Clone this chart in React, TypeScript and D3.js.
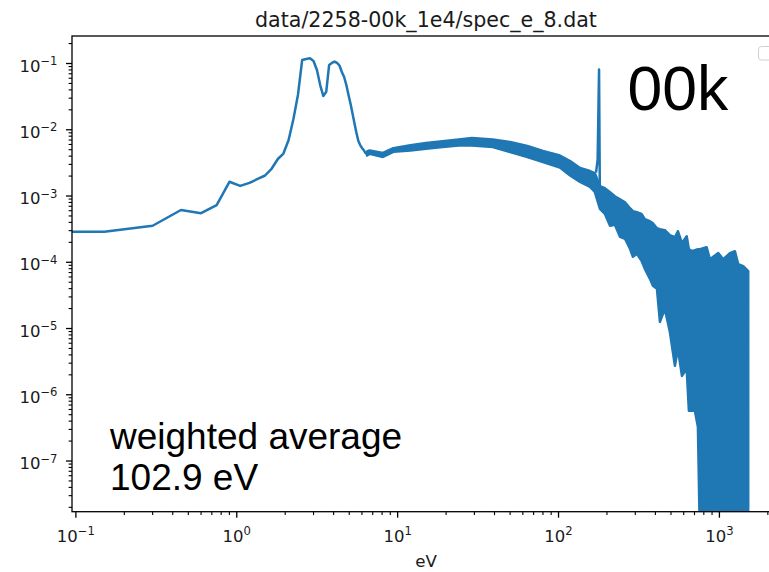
import React from 'react';
import * as d3 from 'd3';

// ---- data (energy in eV, spectral value) ----
// sparse low-energy part (0.15 eV bins; first bin at the left edge)
const lowE = [0.05, 0.15, 0.30, 0.45, 0.60, 0.75, 0.90, 1.05, 1.20, 1.35, 1.50, 1.65, 1.80, 1.95, 2.10, 2.25, 2.40, 2.55, 2.70, 2.85, 3.00, 3.15, 3.30, 3.45, 3.60, 3.75, 3.90, 4.05, 4.20, 4.35, 4.50, 4.65, 4.80, 4.95, 5.10, 5.25, 5.40, 5.55, 5.70, 5.85, 6.00, 6.15, 6.30, 6.45];
const lowF = [2.88e-4, 2.89e-4, 3.56e-4, 6.15e-4, 5.5e-4, 7.31e-4, 1.64e-3, 1.42e-3, 1.58e-3, 1.81e-3, 2.04e-3, 2.6e-3, 3.62e-3, 4.38e-3, 7.0e-3, 1.45e-2, 3.35e-2, 0.113, 0.117, 0.120, 0.109, 0.0798, 0.0473, 0.0323, 0.0375, 0.0949, 0.102, 0.107, 0.102, 0.0933, 0.0744, 0.0626, 0.0473, 0.0335, 0.0245, 0.0173, 0.0122, 0.0089, 0.00676, 0.00588, 0.00531, 0.00495, 0.00446, 0.0043];

// dense noisy part: upper and lower envelope of the fluctuating curve (0 = empty bins)
const bandE = [6.45, 6.7, 8.1, 9.4, 12, 15, 19, 24, 29, 39, 50, 64, 80, 102, 118, 136, 157, 168, 181, 194, 209, 224, 241, 259, 278, 290, 307, 328, 344, 370, 386, 409, 427, 458, 492, 529, 552, 585, 626, 646, 675, 704, 735, 757, 832, 873, 983, 1056, 1162, 1248, 1309, 1406, 1510];
const bandHi = [4.70e-3, 4.86e-3, 4.46e-3, 5.27e-3, 5.85e-3, 6.31e-3, 6.71e-3, 7.13e-3, 7.50e-3, 7.13e-3, 6.53e-3, 5.69e-3, 4.78e-3, 4.08e-3, 3.37e-3, 2.65e-3, 2.38e-3, 2.22e-3, 1.41e-3, 1.31e-3, 1.14e-3, 9.93e-4, 8.95e-4, 8.06e-4, 6.55e-4, 5.90e-4, 5.69e-4, 5.37e-4, 4.47e-4, 4.17e-4, 3.88e-4, 3.26e-4, 3.15e-4, 3.05e-4, 2.56e-4, 2.39e-4, 2.94e-4, 1.94e-4, 2.47e-4, 1.57e-4, 1.47e-4, 1.52e-4, 1.57e-4, 1.57e-4, 1.69e-4, 1.11e-4, 1.38e-4, 1.11e-4, 1.37e-4, 1.47e-4, 9.35e-5, 8.72e-5, 7.33e-5];
const bandLo = [4.08e-3, 4.33e-3, 3.88e-3, 4.65e-3, 4.86e-3, 5.16e-3, 5.50e-3, 5.78e-3, 5.78e-3, 5.50e-3, 4.61e-3, 3.88e-3, 3.26e-3, 2.69e-3, 2.04e-3, 1.63e-3, 1.37e-3, 1.15e-3, 6.41e-4, 5.38e-4, 3.55e-4, 3.67e-4, 2.42e-4, 2.26e-4, 1.60e-4, 1.21e-4, 1.34e-4, 1.05e-4, 7.96e-5, 5.62e-5, 4.41e-5, 3.97e-5, 1.26e-5, 1.98e-5, 8.91e-6, 2.73e-6, 4.94e-6, 1.93e-6, 2.47e-6, 5.73e-7, 5.73e-7, 5.73e-7, 3.28e-7, 0, 0, 0, 0, 0, 0, 0, 0, 0, 0];

// narrow line near 179 eV
const spikeE = [171, 175, 178.6, 180.5];
const spikeF = [2.25e-3, 3.5e-3, 0.0812, 1.42e-3];

// axis ticks
const xTickExp = [-1, 0, 1, 2, 3];
const yTickExp = [-1, -2, -3, -4, -5, -6, -7];

const titleText = 'data/2258-00k_1e4/spec_e_8.dat';
const xLabel = 'eV';
const bigLabel = '00k';
const noteLines = ['weighted average', '102.9 eV'];

const C0 = '#1f77b4';
const W = 769, H = 572;
const L = 72, R = 780, T = 36, B = 511.7;

export default function App() {
  const x = d3.scaleLog().domain([0.0946, 2380]).range([L, R]);
  const y = d3.scaleLog().domain([1.718e-8, 0.2602]).range([B, T]);
  const yv = (v: number) => (v > 0 ? y(v) : B + 30);

  const lowPts = lowE.map((e, i) => [e, lowF[i]] as [number, number]);
  const line = d3.line<[number, number]>().x(d => x(d[0])).y(d => yv(d[1]));
  const bandPts = bandE.map((e, i) => ({ e, hi: bandHi[i], lo: bandLo[i] }));
  const area = d3.area<{ e: number; hi: number; lo: number }>()
    .x(d => x(d.e)).y0(d => yv(d.lo)).y1(d => yv(d.hi));
  const spikePts = spikeE.map((e, i) => [e, spikeF[i]] as [number, number]);

  const [x0, x1] = x.domain();
  const [y0, y1] = y.domain();
  const xMinor: number[] = [];
  for (let k = -2; k <= 3; k++) for (let m = 2; m <= 9; m++) {
    const v = m * Math.pow(10, k);
    if (v > x0 && v < x1) xMinor.push(v);
  }
  const yMinor: number[] = [];
  for (let k = -9; k <= 0; k++) for (let m = 2; m <= 9; m++) {
    const v = m * Math.pow(10, k);
    if (v > y0 && v < y1) yMinor.push(v);
  }

  const tickColor = '#1a1a1a';
  const tickFont = 'DejaVu Sans, sans-serif';

  return (
    <div style={{ position: 'absolute', left: 0, top: 0 }}>
      <svg width={W} height={H} style={{ display: 'block', background: '#fff' }}>
        <defs>
          <clipPath id="plotclip">
            <rect x={L} y={T} width={R - L} height={B - T} />
          </clipPath>
        </defs>
        <rect x={0} y={0} width={W} height={H} fill="#fff" />

        <g clipPath="url(#plotclip)">
          <path d={line(lowPts) || ''} fill="none" stroke={C0} strokeWidth={2.5} strokeLinejoin="round" strokeLinecap="round" />
          <path d={area(bandPts) || ''} fill={C0} stroke={C0} strokeWidth={2.5} strokeLinejoin="round" />
          <path d={line(spikePts) || ''} fill="none" stroke={C0} strokeWidth={2.5} strokeLinejoin="round" />
        </g>

        {/* legend frame (empty) */}
        <rect x={758.5} y={46.5} width={20} height={13.5} rx={3} fill="#fff" fillOpacity={0.8} stroke="#d0d0d0" strokeWidth={1} />

        {/* spines */}
        <rect x={L} y={T} width={R - L} height={B - T} fill="none" stroke="#000" strokeWidth={1.3} />

        {/* x ticks */}
        {xMinor.map(v => (
          <line key={'xm' + v} x1={x(v)} x2={x(v)} y1={B} y2={B + 3.4} stroke="#000" strokeWidth={1.1} />
        ))}
        {xTickExp.map(k => {
          const px = x(Math.pow(10, k));
          return (
            <g key={'xt' + k}>
              <line x1={px} x2={px} y1={B} y2={B + 6} stroke="#000" strokeWidth={1.3} />
              <text x={px} y={541.5} textAnchor="middle" fontFamily={tickFont} fontSize={16.5} fill={tickColor}>
                <tspan>10</tspan>
                <tspan dy={-6.5} fontSize={11.6}>{k < 0 ? '\u2212' + Math.abs(k) : String(k)}</tspan>
              </text>
            </g>
          );
        })}

        {/* y ticks */}
        {yMinor.map(v => (
          <line key={'ym' + v} x1={L - 3.4} x2={L} y1={y(v)} y2={y(v)} stroke="#000" strokeWidth={1.1} />
        ))}
        {yTickExp.map(k => {
          const py = y(Math.pow(10, k));
          return (
            <g key={'yt' + k}>
              <line x1={L - 6} x2={L} y1={py} y2={py} stroke="#000" strokeWidth={1.3} />
              <text x={57.5} y={py + 8.2} textAnchor="end" fontFamily={tickFont} fontSize={16.5} fill={tickColor}>
                <tspan>10</tspan>
                <tspan dy={-6.5} fontSize={11.6}>{'\u2212' + Math.abs(k)}</tspan>
              </text>
            </g>
          );
        })}

        {/* title and axis label */}
        <text x={(L + R) / 2} y={26.5} textAnchor="middle" fontFamily={tickFont} fontSize={20.6} fill={tickColor}>{titleText}</text>
        <text x={(L + R) / 2} y={567} textAnchor="middle" fontFamily={tickFont} fontSize={16.7} fill={tickColor}>{xLabel}</text>

        {/* annotations */}
        <text x={627.5} y={110} fontFamily="Liberation Sans, Arial, sans-serif" fontSize={62.5} fill="#000">{bigLabel}</text>
        {noteLines.map((s, i) => (
          <text key={s} x={110} y={449 + i * 41} fontFamily="Liberation Sans, Arial, sans-serif" fontSize={37} fill="#000">{s}</text>
        ))}
      </svg>
    </div>
  );
}
